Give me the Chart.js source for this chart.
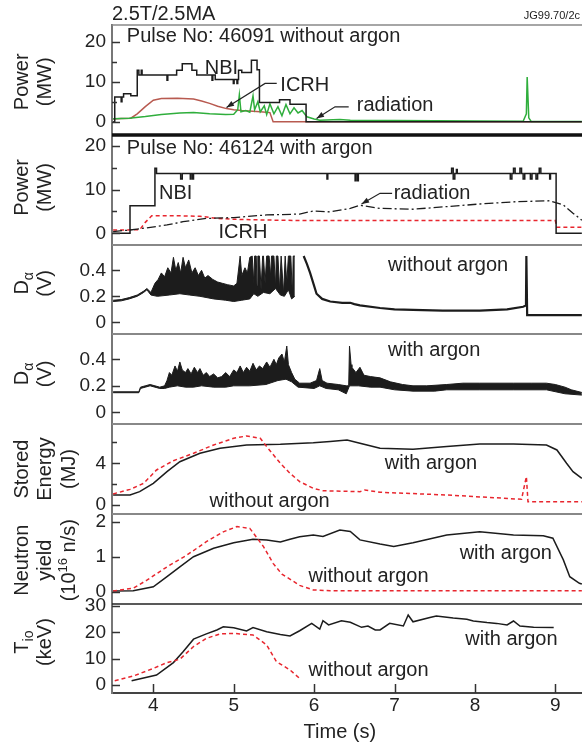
<!DOCTYPE html>
<html>
<head>
<meta charset="utf-8">
<script src="https://cdn.jsdelivr.net/npm/chart.js@4.4.1/dist/chart.umd.min.js"></script>
<style>
  html, body { margin: 0; padding: 0; background: #fff; }
</style>
</head>
<body>
<canvas id="jet" width="582" height="747"></canvas>
<script>
(function () {
    'use strict';

    const FONT = '"Liberation Sans", Arial, Helvetica, sans-serif';
    const BLACK = '#1c1c1c';
    const RED = '#e8262e';
    const GREEN = '#2fae3c';
    const BROWN = '#b85a50';

    // ---- time axis ----
    const timeTicks = [4, 5, 6, 7, 8, 9];

    // ---- tick values per panel (all ticks / labelled ticks) ----
    const powerTicks = [0, 5, 10, 15, 20];
    const powerLabels = [0, 10, 20];
    const dalphaTicks = [0, 0.2, 0.4];
    const energyTicks = [0, 2, 4, 6];
    const energyLabels = [0, 4];
    const neutronTicks = [0, 1, 2];
    const tiTicks = [0, 10, 20, 30];

    // ---- pulse 46091 (no argon), power in MW: [time s, value] ----
    const nbiNoAr = [[3.50, 0], [3.52, 6.2], [3.60, 5.0], [3.61, 6.2], [3.63, 7.0], [3.72, 6.5], [3.80, 12.9],
        [3.82, 11.7], [3.85, 12.9], [3.86, 11.7], [4.17, 10.4], [4.18, 11.7], [4.29, 12.9], [4.36, 14.5],
        [4.48, 12.9], [4.54, 11.7], [4.73, 10.4], [4.74, 11.7], [4.77, 10.6], [4.995, 9.6], [5.005, 10.6],
        [5.04, 9.6], [5.05, 10.6], [5.06, 12.9], [5.10, 12.3], [5.22, 15.4], [5.29, 13.0], [5.32, 4.8],
        [5.57, 5.5], [5.70, 4.4], [5.90, 0], [9.33, 0]];
    const icrhNoAr = [[3.50, 0.7], [3.60, 0.8], [3.72, 0.9], [3.80, 2.0], [3.90, 3.8], [4.00, 5.4], [4.10, 5.8],
        [4.30, 5.9], [4.50, 5.7], [4.60, 5.2], [4.70, 4.6], [4.80, 3.9], [4.91, 3.3], [5.00, 3.0], [5.10, 2.8],
        [5.33, 2.5], [5.45, 2.3], [5.49, 0], [9.33, 0]];
    const radNoAr = [[3.50, 0.75], [3.70, 0.9], [3.90, 1.3], [4.10, 1.8], [4.33, 2.2], [4.50, 2.3], [4.70, 2.0],
        [4.90, 1.8], [5.00, 1.9], [5.05, 3.0], [5.07, 6.7], [5.09, 2.5], [5.15, 2.8], [5.20, 2.4], [5.24, 6.5],
        [5.26, 3.0], [5.30, 5.0], [5.33, 2.5], [5.38, 4.0], [5.41, 1.8], [5.45, 4.5], [5.50, 2.0], [5.55, 3.8],
        [5.60, 1.5], [5.65, 4.3], [5.70, 2.0], [5.75, 3.5], [5.80, 2.2], [5.85, 2.8], [5.91, 1.25], [6.00, 0.7],
        [6.07, 0.4], [6.32, 0.6], [6.45, 0.4], [7.00, 0.3], [8.00, 0.2], [8.60, 0.15], [8.64, 2.0], [8.65, 11.2],
        [8.67, 1.0], [8.70, 0.1], [9.33, 0.1]];

    // ---- pulse 46124 (argon), power in MW ----
    const nbiAr = [[3.50, 0], [3.71, 6.3], [4.02, 14.9], [4.04, 13.7], [4.34, 12.4], [4.36, 13.7], [4.46, 12.4],
        [4.47, 13.7], [4.49, 12.4], [4.50, 13.7], [6.16, 12.4], [6.17, 13.7], [6.51, 12.0], [6.52, 13.7],
        [6.54, 12.0], [6.55, 13.7], [7.71, 14.9], [7.73, 12.4], [7.75, 13.7], [7.77, 14.6], [7.78, 13.7],
        [8.44, 12.4], [8.46, 13.7], [8.48, 14.9], [8.50, 13.7], [8.56, 14.9], [8.58, 13.7], [8.60, 12.4],
        [8.62, 13.7], [8.69, 12.4], [8.71, 13.7], [8.76, 12.4], [8.78, 13.7], [8.80, 14.9], [8.82, 13.7],
        [8.93, 12.4], [8.94, 13.7], [9.01, 0], [9.33, 0]];
    const icrhAr = [[3.50, 0.75], [3.83, 0.8], [3.90, 2.5], [3.98, 4.0], [4.30, 4.0], [4.58, 3.9], [4.80, 3.4],
        [5.00, 3.2], [5.50, 3.0], [6.00, 2.9], [7.00, 2.9], [8.00, 2.9], [9.00, 2.9], [9.02, 1.4], [9.33, 1.4]];
    const radAr = [[3.50, 0.4], [3.71, 0.75], [3.90, 1.2], [4.17, 1.9], [4.37, 2.65], [4.66, 3.4], [5.00, 3.6],
        [5.41, 4.2], [5.82, 4.4], [5.99, 5.1], [6.20, 4.9], [6.45, 5.7], [6.57, 6.4], [6.82, 5.7], [7.23, 5.5],
        [7.65, 6.1], [8.06, 6.7], [8.48, 7.2], [8.93, 7.45], [9.10, 6.5], [9.22, 4.6], [9.33, 3.0]];

    // ---- D-alpha (V), without argon: band envelope before the saturated gap, trace after it ----
    const daNoArLow = [[3.50, 0.16], [3.60, 0.165], [3.70, 0.18], [3.80, 0.2], [3.88, 0.23], [3.92, 0.25],
        [3.97, 0.21], [4.05, 0.2], [4.20, 0.21], [4.33, 0.22], [4.45, 0.21], [4.58, 0.2], [4.75, 0.18],
        [4.90, 0.17], [5.00, 0.16], [5.10, 0.17], [5.20, 0.18], [5.25, 0.22], [5.30, 0.2], [5.37, 0.23],
        [5.45, 0.22], [5.52, 0.26], [5.58, 0.21], [5.63, 0.2], [5.68, 0.25], [5.72, 0.18], [5.76, 0.2]];
    const daNoArHigh = [[3.50, 0.17], [3.60, 0.175], [3.70, 0.19], [3.80, 0.21], [3.88, 0.24], [3.92, 0.26],
        [3.97, 0.23], [4.02, 0.3], [4.06, 0.33], [4.10, 0.38], [4.14, 0.35], [4.18, 0.42], [4.22, 0.38],
        [4.25, 0.5], [4.28, 0.4], [4.31, 0.46], [4.34, 0.38], [4.37, 0.5], [4.40, 0.42], [4.44, 0.48],
        [4.48, 0.38], [4.52, 0.42], [4.56, 0.36], [4.60, 0.40], [4.64, 0.34], [4.68, 0.36], [4.74, 0.33],
        [4.80, 0.31], [4.86, 0.3], [4.92, 0.29], [5.00, 0.28], [5.04, 0.3], [5.08, 0.51], [5.10, 0.36],
        [5.14, 0.42], [5.17, 0.38], [5.20, 0.5], [5.23, 0.51], [5.25, 0.3], [5.26, 0.51], [5.28, 0.51],
        [5.29, 0.28], [5.30, 0.51], [5.32, 0.51], [5.34, 0.25], [5.36, 0.51], [5.37, 0.51], [5.39, 0.3],
        [5.41, 0.51], [5.44, 0.51], [5.46, 0.35], [5.47, 0.51], [5.50, 0.51], [5.52, 0.27], [5.53, 0.51],
        [5.55, 0.51], [5.57, 0.25], [5.59, 0.51], [5.60, 0.51], [5.62, 0.22], [5.64, 0.51], [5.66, 0.3],
        [5.68, 0.51], [5.71, 0.51], [5.73, 0.2], [5.74, 0.51], [5.76, 0.51]];
    const daNoArTail = [[5.87, 0.51], [5.91, 0.45], [5.95, 0.38], [6.00, 0.28], [6.03, 0.22], [6.10, 0.18],
        [6.20, 0.16], [6.35, 0.15], [6.45, 0.15], [6.50, 0.14], [6.57, 0.13], [6.82, 0.11], [7.00, 0.1],
        [7.23, 0.095], [7.60, 0.09], [8.06, 0.09], [8.40, 0.1], [8.60, 0.12], [8.635, 0.13], [8.64, 0.51],
        [8.645, 0.51], [8.65, 0.056], [9.33, 0.055]];

    // ---- D-alpha (V), with argon ----
    const daArLow = [[3.50, 0.148], [3.82, 0.148], [3.84, 0.18], [3.90, 0.19], [3.96, 0.2], [4.02, 0.19],
        [4.08, 0.18], [4.14, 0.18], [4.20, 0.19], [4.30, 0.2], [4.40, 0.19], [4.50, 0.19], [4.60, 0.2],
        [4.75, 0.19], [4.90, 0.19], [5.00, 0.2], [5.20, 0.2], [5.40, 0.21], [5.55, 0.24], [5.65, 0.25],
        [5.72, 0.23], [5.80, 0.19], [6.00, 0.18], [6.07, 0.2], [6.15, 0.18], [6.30, 0.17], [6.40, 0.14],
        [6.44, 0.2], [6.55, 0.2], [6.70, 0.19], [6.82, 0.19], [7.00, 0.17], [7.23, 0.16], [7.50, 0.16],
        [7.65, 0.17], [8.06, 0.17], [8.48, 0.17], [8.89, 0.17], [9.12, 0.14], [9.33, 0.13]];
    const daArHigh = [[3.50, 0.155], [3.82, 0.155], [3.84, 0.19], [3.90, 0.2], [3.96, 0.21], [4.02, 0.2],
        [4.08, 0.19], [4.14, 0.2], [4.17, 0.24], [4.20, 0.3], [4.23, 0.28], [4.27, 0.35], [4.30, 0.31],
        [4.33, 0.38], [4.36, 0.32], [4.40, 0.3], [4.43, 0.33], [4.47, 0.29], [4.51, 0.34], [4.55, 0.3],
        [4.58, 0.33], [4.62, 0.28], [4.66, 0.3], [4.70, 0.27], [4.75, 0.29], [4.80, 0.26], [4.85, 0.27],
        [4.90, 0.3], [4.95, 0.27], [5.00, 0.32], [5.04, 0.3], [5.08, 0.35], [5.12, 0.3], [5.16, 0.34],
        [5.20, 0.31], [5.24, 0.37], [5.28, 0.32], [5.32, 0.35], [5.36, 0.33], [5.41, 0.38], [5.45, 0.34],
        [5.50, 0.4], [5.53, 0.36], [5.56, 0.41], [5.60, 0.44], [5.63, 0.38], [5.66, 0.5], [5.68, 0.36],
        [5.72, 0.3], [5.76, 0.25], [5.82, 0.22], [5.95, 0.22], [6.03, 0.24], [6.07, 0.33], [6.10, 0.24],
        [6.16, 0.22], [6.30, 0.21], [6.40, 0.2], [6.43, 0.2], [6.44, 0.5], [6.46, 0.36], [6.47, 0.34],
        [6.52, 0.3], [6.57, 0.34], [6.62, 0.28], [6.70, 0.27], [6.82, 0.26], [6.95, 0.23], [7.10, 0.21],
        [7.23, 0.2], [7.40, 0.2], [7.65, 0.21], [7.85, 0.22], [8.06, 0.22], [8.30, 0.22], [8.48, 0.22],
        [8.70, 0.22], [8.89, 0.22], [9.00, 0.21], [9.12, 0.19], [9.20, 0.17], [9.33, 0.15]];

    // ---- stored energy (MJ) ----
    const wAr = [[3.50, 0.96], [3.71, 0.96], [3.83, 1.28], [4.00, 2.08], [4.17, 3.2], [4.33, 4.15], [4.58, 4.96],
        [4.83, 5.44], [5.16, 5.76], [5.58, 5.82], [5.99, 5.98], [6.20, 6.1], [6.41, 6.24], [6.57, 5.92],
        [6.82, 5.44], [7.23, 5.34], [7.65, 5.6], [8.06, 5.85], [8.48, 5.85], [8.89, 5.76], [9.02, 5.28],
        [9.14, 4.0], [9.22, 3.2], [9.33, 2.56]];
    const wNoAr = [[3.50, 1.06], [3.71, 1.5], [3.88, 2.08], [4.04, 3.36], [4.25, 4.25], [4.50, 4.96], [4.75, 5.76],
        [5.00, 6.4], [5.16, 6.62], [5.33, 6.4], [5.41, 5.6], [5.58, 4.0], [5.70, 3.04], [5.82, 2.24], [5.99, 1.6],
        [6.11, 1.37], [6.57, 1.28], [6.63, 1.44], [6.82, 1.22], [7.65, 0.96], [8.58, 0.55], [8.64, 2.72],
        [8.66, 0.32], [9.33, 0.32]];

    // ---- neutron yield (1e16 n/s) ----
    const nAr = [[3.50, 0.02], [3.75, 0.03], [4.00, 0.14], [4.17, 0.43], [4.33, 0.71], [4.50, 1.0], [4.75, 1.24],
        [5.00, 1.4], [5.24, 1.5], [5.41, 1.48], [5.58, 1.42], [5.70, 1.5], [5.82, 1.57], [5.99, 1.62],
        [6.11, 1.58], [6.32, 1.76], [6.45, 1.72], [6.57, 1.48], [6.82, 1.36], [6.99, 1.29], [7.23, 1.4],
        [7.65, 1.62], [8.06, 1.71], [8.48, 1.62], [8.85, 1.6], [8.97, 1.53], [9.10, 0.91], [9.18, 0.43],
        [9.30, 0.24], [9.33, 0.22]];
    const nNoAr = [[3.50, 0.02], [3.75, 0.1], [3.92, 0.33], [4.17, 0.71], [4.42, 1.05], [4.66, 1.43], [4.87, 1.71],
        [5.04, 1.86], [5.20, 1.81], [5.37, 1.29], [5.49, 0.81], [5.60, 0.5], [5.74, 0.3], [5.82, 0.18],
        [5.99, 0.05], [6.20, 0.03], [9.33, 0.03]];

    // ---- central ion temperature (keV) ----
    const tiAr = [[3.73, 1.6], [4.04, 3.8], [4.25, 8.5], [4.37, 12.6], [4.50, 17.4], [4.66, 19.4], [4.79, 20.9],
        [4.87, 22.1], [5.00, 21.7], [5.16, 20.5], [5.24, 21.8], [5.41, 20.2], [5.58, 19.2], [5.70, 18.6],
        [5.82, 20.6], [5.97, 23.4], [6.07, 21.2], [6.11, 24.4], [6.18, 22.8], [6.34, 24.4], [6.45, 23.8],
        [6.59, 21.9], [6.67, 22.4], [6.76, 20.9], [6.82, 20.9], [6.94, 23.4], [7.11, 22.4], [7.17, 26.6],
        [7.23, 24.0], [7.44, 25.6], [7.52, 26.2], [7.73, 25.4], [7.90, 25.0], [7.98, 24.3], [8.15, 23.7],
        [8.27, 23.4], [8.40, 22.8], [8.48, 24.3], [8.56, 22.4], [8.73, 21.9], [8.98, 21.8]];
    const tiNoAr = [[3.52, 1.6], [3.75, 3.4], [4.00, 6.3], [4.17, 8.5], [4.33, 9.8], [4.50, 14.6], [4.66, 17.7],
        [4.83, 19.4], [5.00, 19.6], [5.24, 19.0], [5.41, 15.2], [5.53, 8.9], [5.70, 5.7], [5.82, 2.5]];

    const xy = arr => arr.map(([x, y]) => ({ x, y }));

    function trace(data, yAxisID, color, extra) {
        return Object.assign({
            data: xy(data), yAxisID, borderColor: color, borderWidth: 1.5,
            pointRadius: 0, fill: false, tension: 0
        }, extra || {});
    }

    const dashed = { borderDash: [4, 3] };

    const datasets = [
        trace(nbiNoAr, 'p1', BLACK, { stepped: true }),
        trace(radNoAr, 'p1', GREEN),
        trace(icrhNoAr, 'p1', BROWN),

        trace(nbiAr, 'p2', BLACK, { stepped: true }),
        trace(radAr, 'p2', BLACK, { borderWidth: 1.3, borderDash: [9, 3, 2, 3] }),
        trace(icrhAr, 'p2', RED, dashed),

        trace(daNoArLow, 'p3', BLACK, { borderWidth: 1 }),
        trace(daNoArHigh, 'p3', BLACK, { borderWidth: 1, fill: '-1', backgroundColor: BLACK }),
        trace(daNoArTail, 'p3', BLACK, { borderWidth: 2.2 }),

        trace(daArLow, 'p4', BLACK, { borderWidth: 1 }),
        trace(daArHigh, 'p4', BLACK, { borderWidth: 1, fill: '-1', backgroundColor: BLACK }),

        trace(wNoAr, 'p5', RED, dashed),
        trace(wAr, 'p5', BLACK),

        trace(nNoAr, 'p6', RED, dashed),
        trace(nAr, 'p6', BLACK),

        trace(tiNoAr, 'p7', RED, dashed),
        trace(tiAr, 'p7', BLACK)
    ];

    // stacked panels, top to bottom
    function panelAxis(min, max, stackWeight, weight, tickVals, labelVals) {
        return {
            type: 'linear', position: 'left', stack: 'panels', stackWeight, weight, min, max,
            grid: { display: false, drawTicks: false },
            border: { display: true, color: '#777', width: 2 },
            afterFit: s => { s.width = 112; },
            afterBuildTicks: s => { s.ticks = tickVals.map(v => ({ value: v })); },
            ticks: {
                autoSkip: false, padding: 6, color: '#222', font: { size: 19 },
                callback: v => (labelVals.includes(v) ? String(v) : '')
            }
        };
    }

    const panelIds = ['p1', 'p2', 'p3', 'p4', 'p5', 'p6', 'p7'];
    const frames = [
        { color: '#888', width: 1.5 },
        { color: '#111', width: 3.5 },
        { color: '#888', width: 2 },
        { color: '#888', width: 2 },
        { color: '#888', width: 2 },
        { color: '#888', width: 2 },
        { color: '#222', width: 1.5 }
    ];

    const yTitles = [
        { id: 'p1', at: 10, lines: [['Power'], ['(MW)']] },
        { id: 'p2', at: 10.5, lines: [['Power'], ['(MW)']] },
        { id: 'p3', at: 0.3, lines: [['D', ['\u03b1', 'sub']], ['(V)']] },
        { id: 'p4', at: 0.29, lines: [['D', ['\u03b1', 'sub']], ['(V)']] },
        { id: 'p5', at: 3.45, lines: [['Stored'], ['Energy'], ['(MJ)']] },
        { id: 'p6', at: 0.9, lines: [['Neutron'], ['yield'], ['(10', ['16', 'sup'], ' n/s)']] },
        { id: 'p7', at: 16.3, lines: [['T', ['io', 'sub']], ['(keV)']] }
    ];

    const notes = [
        { id: 'p1', t: 3.67, v: 21.4, text: 'Pulse No: 46091 without argon' },
        { id: 'p1', t: 4.64, v: 13.3, text: 'NBI' },
        { id: 'p1', t: 5.58, v: 9.2, text: 'ICRH' },
        { id: 'p1', t: 6.53, v: 4.2, text: 'radiation' },
        { id: 'p2', t: 3.67, v: 19.45, text: 'Pulse No: 46124 with argon' },
        { id: 'p2', t: 4.07, v: 9.15, text: 'NBI' },
        { id: 'p2', t: 4.81, v: 0.1, text: 'ICRH' },
        { id: 'p2', t: 6.99, v: 9.15, text: 'radiation' },
        { id: 'p3', t: 6.92, v: 0.44, text: 'without argon' },
        { id: 'p4', t: 6.92, v: 0.47, text: 'with argon' },
        { id: 'p5', t: 6.88, v: 4.0, text: 'with argon' },
        { id: 'p5', t: 4.70, v: 0.38, text: 'without argon' },
        { id: 'p6', t: 7.81, v: 1.1, text: 'with argon' },
        { id: 'p6', t: 5.93, v: 0.43, text: 'without argon' },
        { id: 'p7', t: 7.88, v: 17.4, text: 'with argon' },
        { id: 'p7', t: 5.93, v: 5.7, text: 'without argon' }
    ];

    const arrows = [
        { id: 'p1', pts: [[5.535, 9.6], [5.39, 9.6], [4.91, 3.6]] },
        { id: 'p1', pts: [[6.43, 3.75], [6.26, 3.75], [6.03, 0.85]] },
        { id: 'p2', pts: [[6.97, 9.15], [6.82, 9.15], [6.59, 6.7]] }
    ];

    function drawRich(ctx, segs, baseX, centerY) {
        const parts = segs.map(s => {
            const [text, kind] = Array.isArray(s) ? s : [s, ''];
            const size = kind === 'sub' ? 14 : kind === 'sup' ? 13 : 20;
            const dy = kind === 'sub' ? 5 : kind === 'sup' ? -8 : 0;
            ctx.font = `${size}px ${FONT}`;
            return { text, size, dy, w: ctx.measureText(text).width };
        });
        const total = parts.reduce((a, p) => a + p.w, 0);
        ctx.save();
        ctx.translate(baseX, centerY);
        ctx.rotate(-Math.PI / 2);
        ctx.textAlign = 'left';
        ctx.textBaseline = 'alphabetic';
        let x = -total / 2;
        parts.forEach(p => {
            ctx.font = `${p.size}px ${FONT}`;
            ctx.fillText(p.text, x, p.dy);
            x += p.w;
        });
        ctx.restore();
    }

    const decor = {
        id: 'decor',
        afterDraw(chart) {
            const { ctx, chartArea: area, scales } = chart;
            const sx = scales.x;
            ctx.save();

            // horizontal panel dividers
            panelIds.forEach((id, i) => {
                const s = scales[id];
                ctx.strokeStyle = frames[i].color;
                ctx.lineWidth = frames[i].width;
                ctx.beginPath();
                ctx.moveTo(area.left, s.top);
                ctx.lineTo(area.right, s.top);
                ctx.stroke();
            });

            // inward tick marks on the left axes
            ctx.strokeStyle = '#333';
            ctx.lineWidth = 1.5;
            panelIds.forEach(id => {
                const s = scales[id];
                s.ticks.forEach(t => {
                    const py = Math.round(s.getPixelForValue(t.value)) + 0.5;
                    const len = t.label === '' ? 5 : 8;
                    ctx.beginPath();
                    ctx.moveTo(area.left, py);
                    ctx.lineTo(area.left + len, py);
                    ctx.stroke();
                });
            });
            // and on the time axis
            sx.ticks.forEach(t => {
                const px = Math.round(sx.getPixelForValue(t.value)) + 0.5;
                ctx.beginPath();
                ctx.moveTo(px, area.bottom);
                ctx.lineTo(px, area.bottom - 9);
                ctx.stroke();
            });

            // text labels inside the panels
            ctx.fillStyle = '#222';
            ctx.font = `20px ${FONT}`;
            ctx.textAlign = 'left';
            ctx.textBaseline = 'middle';
            notes.forEach(n => {
                ctx.fillText(n.text, sx.getPixelForValue(n.t), scales[n.id].getPixelForValue(n.v));
            });

            // pointer lines with arrow heads
            ctx.strokeStyle = '#222';
            ctx.lineWidth = 1.2;
            arrows.forEach(a => {
                const s = scales[a.id];
                const pts = a.pts.map(([t, v]) => [sx.getPixelForValue(t), s.getPixelForValue(v)]);
                ctx.beginPath();
                pts.forEach(([px, py], i) => (i ? ctx.lineTo(px, py) : ctx.moveTo(px, py)));
                ctx.stroke();
                const [x1, y1] = pts[pts.length - 2];
                const [x2, y2] = pts[pts.length - 1];
                const ang = Math.atan2(y2 - y1, x2 - x1);
                ctx.beginPath();
                ctx.moveTo(x2, y2);
                ctx.lineTo(x2 - 8 * Math.cos(ang - 0.35), y2 - 8 * Math.sin(ang - 0.35));
                ctx.lineTo(x2 - 8 * Math.cos(ang + 0.35), y2 - 8 * Math.sin(ang + 0.35));
                ctx.closePath();
                ctx.fill();
            });

            // rotated y-axis titles
            yTitles.forEach(tt => {
                const cy = scales[tt.id].getPixelForValue(tt.at);
                const bases = tt.lines.length === 3 ? [27.5, 51, 74.5] : [27.5, 51];
                tt.lines.forEach((segs, i) => drawRich(ctx, segs, bases[i], cy));
            });

            // header and time-axis title
            ctx.font = `20px ${FONT}`;
            ctx.textAlign = 'left';
            ctx.textBaseline = 'middle';
            ctx.fillText('2.5T/2.5MA', area.left, 14);
            ctx.font = `11px ${FONT}`;
            ctx.textAlign = 'right';
            ctx.fillText('JG99.70/2c', 580, 16);
            ctx.font = `20px ${FONT}`;
            ctx.textAlign = 'center';
            ctx.fillText('Time (s)', sx.getPixelForValue(6.32), 732);

            ctx.restore();
        }
    };

    Chart.defaults.font.family = FONT;
    Chart.defaults.color = '#222';

    new Chart(document.getElementById('jet'), {
        type: 'line',
        data: { datasets },
        options: {
            responsive: false,
            animation: false,
            events: [],
            layout: { padding: { top: 25, left: 0, right: 0, bottom: 0 } },
            plugins: { legend: { display: false }, tooltip: { enabled: false } },
            scales: {
                x: {
                    type: 'linear', position: 'bottom', min: 3.486, max: 9.332,
                    grid: { display: false, drawTicks: false },
                    border: { display: true, color: '#444', width: 2 },
                    afterFit: s => { s.height = 54; },
                    afterBuildTicks: s => { s.ticks = timeTicks.map(v => ({ value: v })); },
                    ticks: { autoSkip: false, maxRotation: 0, padding: 1, color: '#222', font: { size: 19 } }
                },
                p1: panelAxis(-3.3, 24.2, 110, 7, powerTicks, powerLabels),
                p2: panelAxis(-2.68, 22.49, 110, 6, powerTicks, powerLabels),
                p3: panelAxis(-0.09, 0.595, 89, 5, dalphaTicks, dalphaTicks),
                p4: panelAxis(-0.088, 0.591, 90, 4, dalphaTicks, dalphaTicks),
                p5: panelAxis(-0.864, 7.77, 90, 3, energyTicks, energyLabels),
                p6: panelAxis(-0.351, 2.22, 90, 2, neutronTicks, neutronTicks),
                p7: panelAxis(-3.04, 30.76, 89, 1, tiTicks, tiTicks)
            }
        },
        plugins: [decor]
    });
})();
</script>
</body>
</html>
